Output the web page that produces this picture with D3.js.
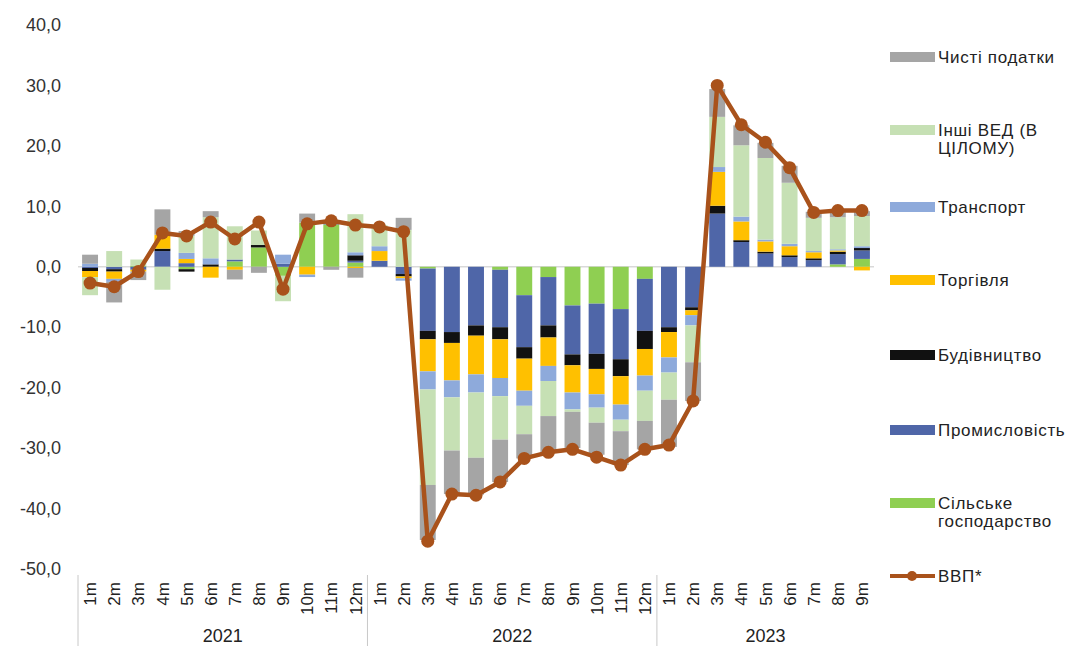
<!DOCTYPE html>
<html>
<head>
<meta charset="utf-8">
<script src="https://cdn.jsdelivr.net/npm/d3@7"></script>
<style>
  body { margin: 0; background: #fff; }
  svg { font-family: "Liberation Sans", Arial, sans-serif; }
</style>
</head>
<body>
<div id="chart"></div>
<script>
var svgWidth = 1080;
var svgHeight = 646;

// categories
var years = ["2021", "2022", "2023"];
var monthsPerYear = [12, 12, 9];

// series (contribution to GDP change, p.p.)
var agri = [0, 0, 0.2, 0, -0.4, 0, 0.9, 3.2, -1.5, 7.3, 7.0, 0.7,
  0, 0, -0.3, 0, 0, -0.5, -4.7, -1.7, -6.4, -6.1, -7.0, -2.0,
  0, 0, 0, 0, 0, 0, 0, 0.4, 1.3];
var industry = [-0.2, -0.4, -0.5, 2.6, 0.6, 0, 0.3, 0, 0.5, 0, 0.2, 0.3,
  1.0, -1.2, -10.3, -10.8, -9.7, -9.5, -8.6, -8.0, -8.1, -8.3, -8.3, -8.6,
  -10.0, -6.7, 8.8, 4.1, 2.2, 1.6, 1.1, 1.7, 1.4];
var construction = [-0.5, -0.4, 0, 0.4, -0.4, 0.4, 0, 0.4, 0, 0, 0, 0.9,
  0, -0.4, -1.4, -1.8, -1.7, -2.0, -1.9, -2.0, -1.8, -2.5, -2.8, -3.0,
  -0.8, -0.5, 1.3, 0.3, 0.3, 0.3, 0.3, 0.4, 0.4];
var trade = [-1.0, -1.2, -0.3, 2.3, 0.7, -1.8, -0.5, 0, 0, -1.3, 0, -0.2,
  1.6, -0.3, -5.3, -6.2, -6.4, -6.4, -5.3, -4.7, -4.5, -4.2, -4.7, -4.4,
  -4.2, -0.8, 5.6, 3.1, 1.7, 1.5, 1.0, 0.2, -0.6];
var transport = [0.5, -0.5, 0, 0, 1.0, 1.0, 0, 0, 1.5, -0.4, 0, 0.5,
  0.8, -0.4, -3.0, -2.8, -3.0, -3.0, -2.5, -2.5, -2.8, -2.2, -2.5, -2.5,
  -2.5, -1.7, 0.8, 0.8, 0.3, 0.4, 0.2, 0.2, 0.3];
var other = [-3.0, 2.6, 1.0, -3.8, 2.8, 6.8, 5.5, 2.4, -4.2, 0, 0, 6.3,
  3.5, 6.1, -15.8, -8.8, -10.8, -7.2, -4.7, -5.8, -0.4, -2.5, -1.9, -5.0,
  -4.5, -6.1, 8.3, 11.8, 13.5, 10.1, 5.5, 5.3, 5.0];
var taxes = [1.5, -3.4, -1.4, 4.2, 0.8, 1.0, -1.6, -1.0, 0, 1.5, -0.5, -1.6,
  0, 2.0, -9.1, -7.2, -6.1, -7.0, -4.0, -6.0, -6.0, -5.3, -5.6, -4.7,
  -7.8, -6.4, 4.6, 3.3, 2.5, 2.8, 1.0, 0.9, 0.8];
var gdp = [-2.7, -3.3, -0.8, 5.6, 5.1, 7.4, 4.6, 7.4, -3.7, 7.1, 7.6, 6.9,
  6.6, 5.8, -45.4, -37.6, -37.8, -35.6, -31.7, -30.7, -30.2, -31.5, -32.8, -30.2,
  -29.5, -22.2, 30.0, 23.5, 20.6, 16.4, 9.0, 9.3, 9.3];

var yTicks = [40, 30, 20, 10, 0, -10, -20, -30, -40, -50];

var seriesKeys = ["agri", "industry", "construction", "trade", "transport", "other", "taxes"];
var seriesNames = {
  agri: ["Сільське", "господарство"],
  industry: ["Промисловість"],
  construction: ["Будівництво"],
  trade: ["Торгівля"],
  transport: ["Транспорт"],
  other: ["Інші ВЕД (В", "ЦІЛОМУ)"],
  taxes: ["Чисті податки"]
};
var colors = {
  agri: "#8fcf52",
  industry: "#4f66a8",
  construction: "#111111",
  trade: "#ffc000",
  transport: "#8eaadb",
  other: "#c6e0b4",
  taxes: "#a5a5a5"
};
var lineColor = "#a9521b";

// build rows
var labels = [];
years.forEach(function(y, yi) {
  for (var m = 1; m <= monthsPerYear[yi]; m++) labels.push({ year: y, month: m + "m" });
});
var Data = labels.map(function(l, i) {
  return {
    i: i, month: l.month, year: l.year,
    agri: agri[i], industry: industry[i], construction: construction[i],
    trade: trade[i], transport: transport[i], other: other[i], taxes: taxes[i],
    gdp: gdp[i]
  };
});

var svg = d3.select("#chart")
  .append("svg")
  .attr("width", svgWidth)
  .attr("height", svgHeight);

var pad = 0.34;
var xBand = d3.scaleBand()
  .domain(Data.map(d => d.i))
  .range([78, 874])
  .paddingInner(pad)
  .paddingOuter(pad / 2);

var yLinearScale = d3.scaleLinear()
  .domain([-50, 40])
  .range([569, 25]);

var locale = d3.formatLocale({ decimal: ",", thousands: " ", grouping: [3], currency: ["", ""], minus: "-" });
var fmt = locale.format(".1f");

// y axis (labels only)
var leftAxis = d3.axisLeft(yLinearScale)
  .tickValues(yTicks)
  .tickSize(0)
  .tickPadding(0)
  .tickFormat(fmt);
var yAxisG = svg.append("g")
  .attr("transform", "translate(61,0)")
  .call(leftAxis);
yAxisG.select(".domain").remove();
yAxisG.selectAll("text")
  .style("font-size", "18px")
  .style("font-family", "Liberation Sans, Arial, sans-serif")
  .attr("fill", "#333");

// zero line
svg.append("line")
  .attr("x1", 78).attr("x2", 874)
  .attr("y1", yLinearScale(0)).attr("y2", yLinearScale(0))
  .attr("stroke", "#d9d9d9")
  .attr("stroke-width", 1.5);

// stacked bars
var stack = d3.stack()
  .keys(seriesKeys)
  .offset(d3.stackOffsetDiverging);
var stacked = stack(Data);

svg.append("g")
  .selectAll("g")
  .data(stacked)
  .enter()
  .append("g")
  .attr("fill", d => colors[d.key])
  .selectAll("rect")
  .data(d => d)
  .enter()
  .append("rect")
  .attr("x", d => xBand(d.data.i))
  .attr("width", xBand.bandwidth())
  .attr("y", d => yLinearScale(Math.max(d[0], d[1])))
  .attr("height", d => Math.abs(yLinearScale(d[0]) - yLinearScale(d[1])));

// GDP line
var cx = d => xBand(d.i) + xBand.bandwidth() / 2;
var line = d3.line()
  .x(cx)
  .y(d => yLinearScale(d.gdp));
svg.append("path")
  .datum(Data)
  .attr("fill", "none")
  .attr("stroke", lineColor)
  .attr("stroke-width", 4.5)
  .attr("stroke-linejoin", "round")
  .attr("d", line);
svg.append("g")
  .selectAll("circle")
  .data(Data)
  .enter()
  .append("circle")
  .attr("cx", cx)
  .attr("cy", d => yLinearScale(d.gdp))
  .attr("r", 6.5)
  .attr("fill", lineColor);

// category axis: months + years
svg.append("g")
  .selectAll("text")
  .data(Data)
  .enter()
  .append("text")
  .attr("transform", d => `translate(${cx(d)}, 582) rotate(-90)`)
  .attr("text-anchor", "end")
  .attr("dy", "0.36em")
  .style("font-size", "17px")
  .attr("fill", "#222")
  .text(d => d.month);

var start = 0;
years.forEach(function(y, yi) {
  var x0 = xBand(start) - xBand.step() * pad / 2;
  var x1 = xBand(start + monthsPerYear[yi] - 1) + xBand.bandwidth() + xBand.step() * pad / 2;
  svg.append("line")
    .attr("x1", x0).attr("x2", x0)
    .attr("y1", 575).attr("y2", 646)
    .attr("stroke", "#c8c8c8")
    .attr("stroke-width", 1);
  svg.append("text")
    .attr("x", (x0 + x1) / 2)
    .attr("y", 642)
    .attr("text-anchor", "middle")
    .style("font-size", "18px")
    .attr("fill", "#222")
    .text(y);
  start += monthsPerYear[yi];
});

// legend
var legendKeys = seriesKeys.slice().reverse();
var legendY = [57, 130, 207, 280, 355, 430, 503];
var legend = svg.append("g")
  .style("font-size", "17px")
  .style("letter-spacing", "0.7px");
legendKeys.forEach(function(k, i) {
  var y = legendY[i];
  legend.append("rect")
    .attr("x", 890).attr("y", y - 5)
    .attr("width", 45).attr("height", 10)
    .attr("fill", colors[k]);
  var t = legend.append("text")
    .attr("x", 938).attr("y", y + 6)
    .attr("fill", "#222");
  seriesNames[k].forEach(function(s, j) {
    t.append("tspan").attr("x", 938).attr("dy", j === 0 ? 0 : 18).text(s);
  });
});
legend.append("line")
  .attr("x1", 890).attr("x2", 935)
  .attr("y1", 576).attr("y2", 576)
  .attr("stroke", lineColor).attr("stroke-width", 4);
legend.append("circle")
  .attr("cx", 912).attr("cy", 576).attr("r", 5)
  .attr("fill", lineColor);
legend.append("text")
  .attr("x", 938).attr("y", 582)
  .attr("fill", "#222")
  .text("ВВП*");
</script>
</body>
</html>
